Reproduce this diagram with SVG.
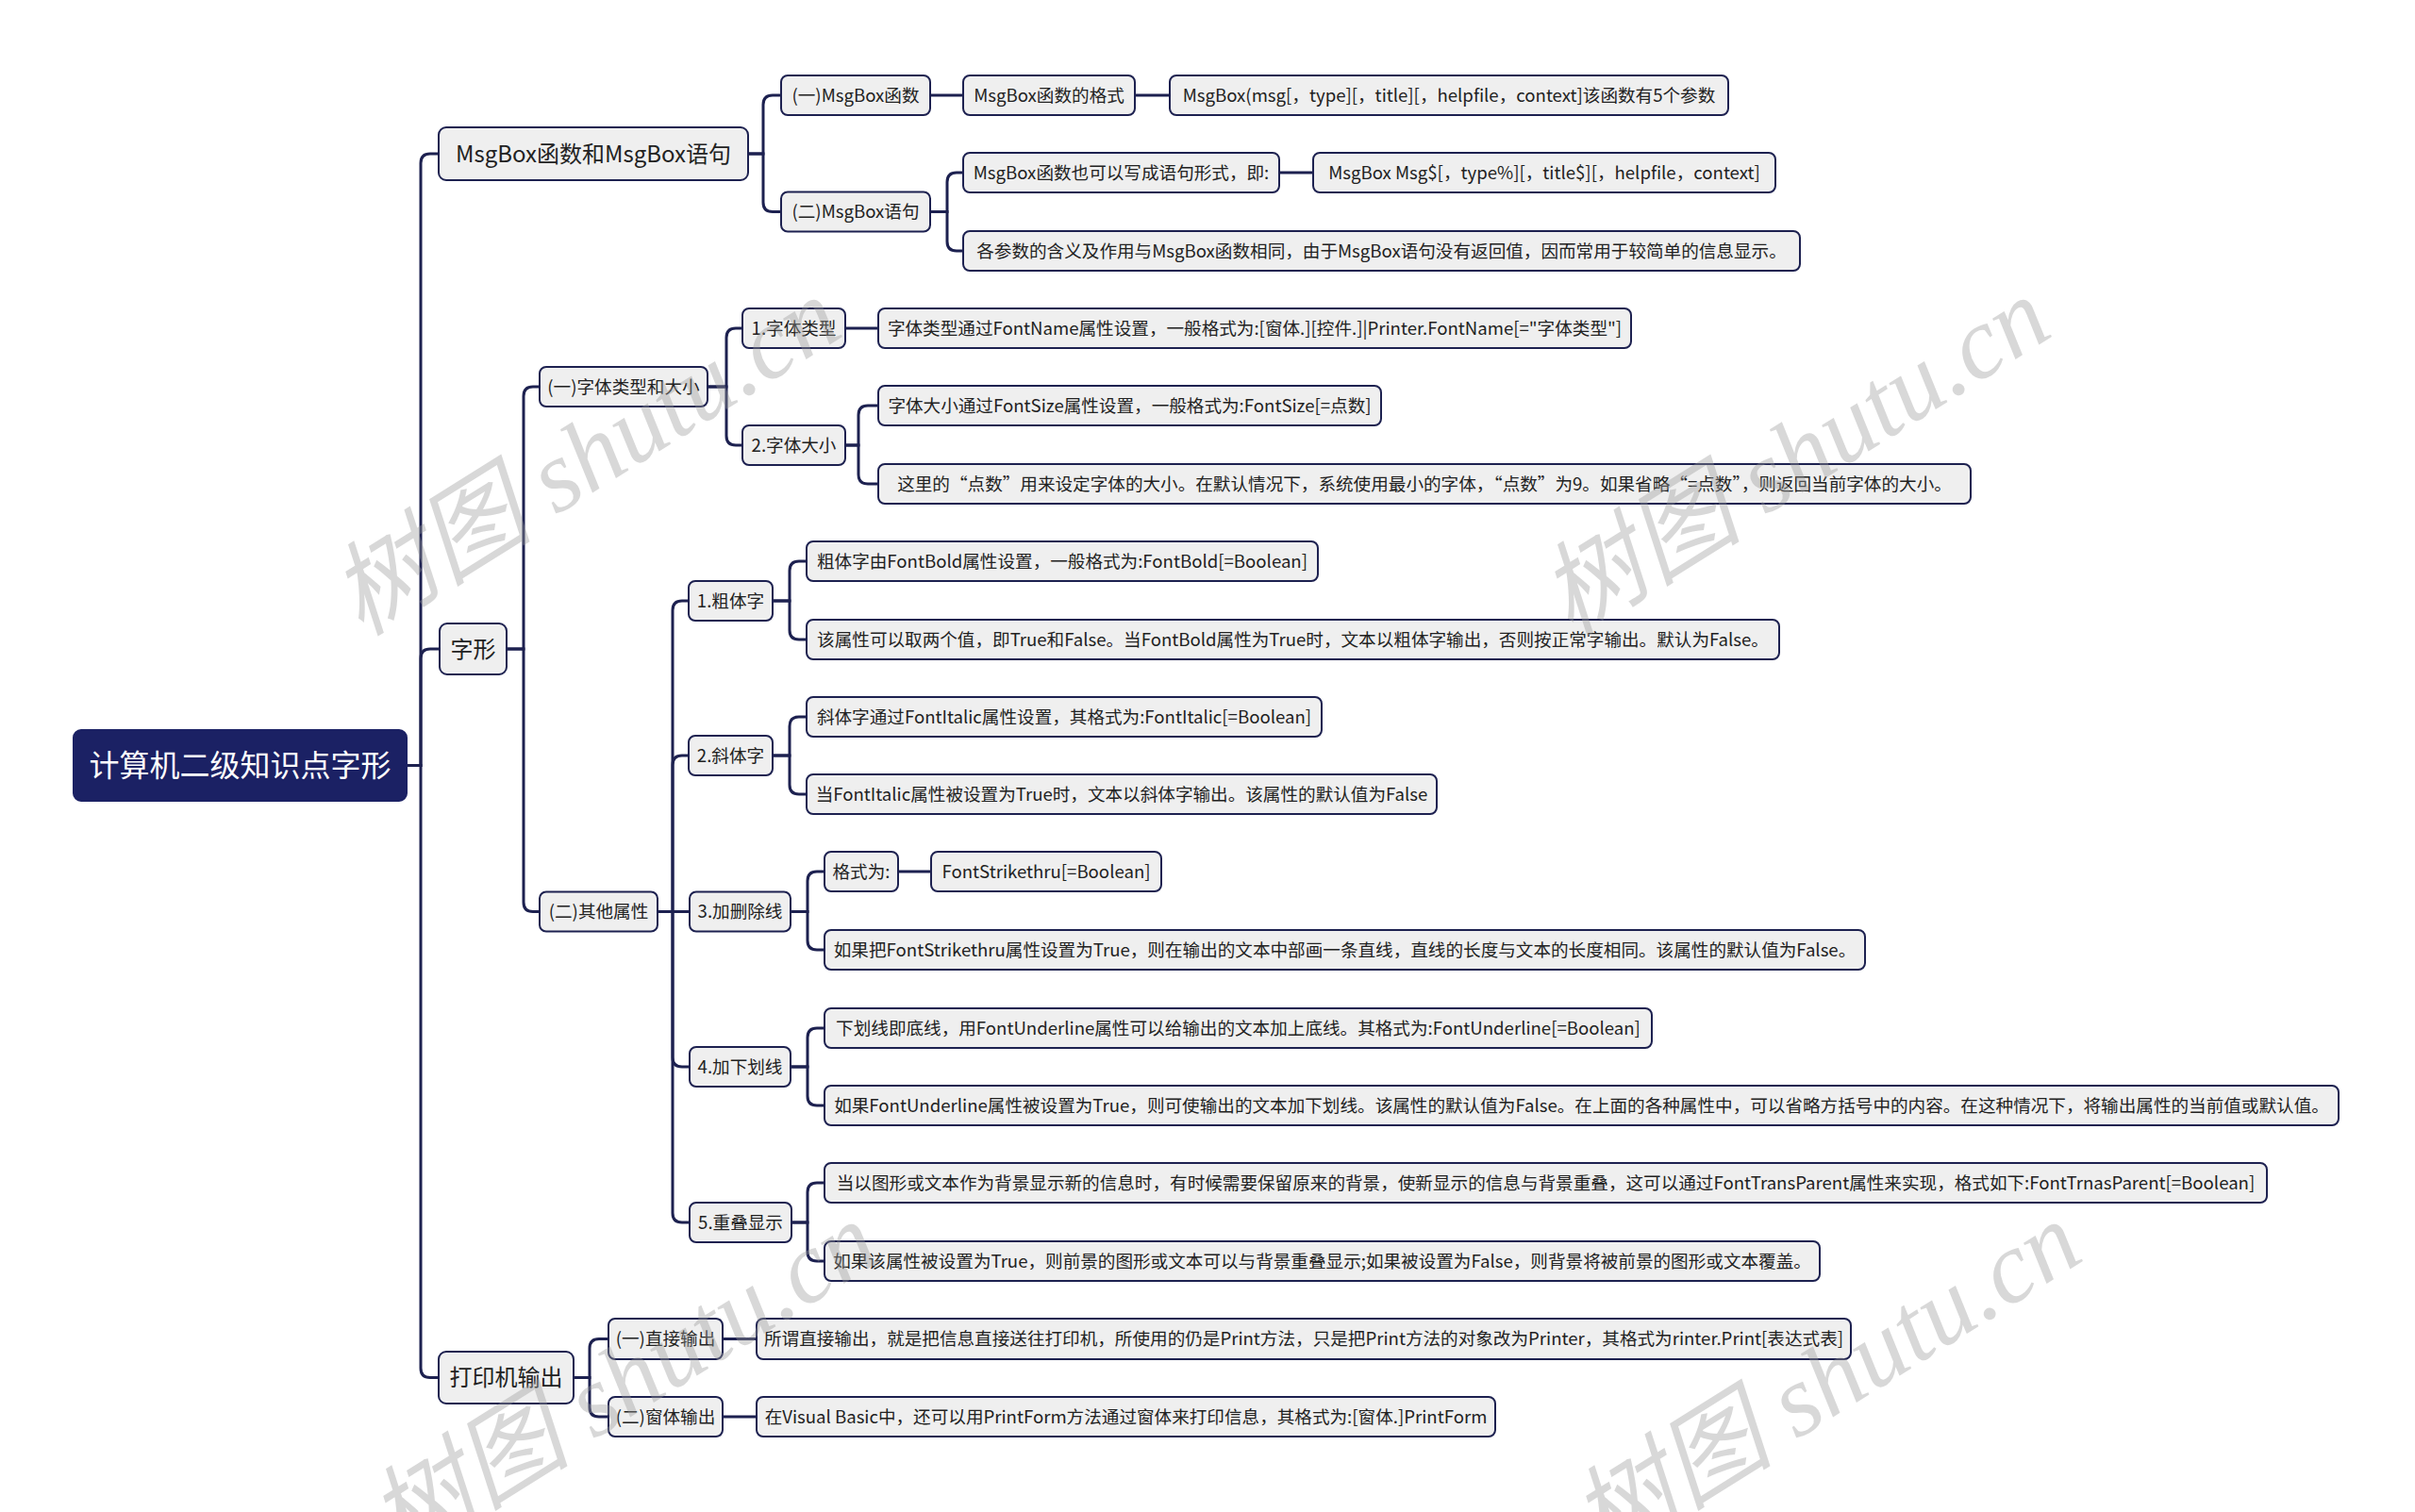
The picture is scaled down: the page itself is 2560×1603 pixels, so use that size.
<svg xmlns="http://www.w3.org/2000/svg" width="2560" height="1603" viewBox="0 0 2560 1603">
<style>
.n rect{fill:#efefef;stroke:#1d2150;stroke-width:2}
.t{font-family:"Noto Sans CJK SC","Noto Sans",sans-serif;font-size:18.6px;fill:#222;text-anchor:middle}
.t1{font-size:24px}
.root rect{fill:#1b2164;stroke:#1b2164}
.root text{fill:#fff;font-size:32px}
.c path{fill:none;stroke:#1d2150;stroke-width:3;stroke-linecap:round}
.wm{font-family:"Liberation Serif",serif;font-style:italic;font-size:108px;fill:#9a9a9a;opacity:0.38;text-anchor:middle}
.wm tspan.cj{font-family:"Noto Sans CJK SC",sans-serif;font-style:italic}
</style>
<rect width="2560" height="1603" fill="#fff"/>
<g id="connectors" class="c">
<path d="M431,811.5 H446 V173 Q446,163 456,163 H465"/>
<path d="M431,811.5 H446 V698 Q446,688 456,688 H466"/>
<path d="M431,811.5 H446 V1450.5 Q446,1460.5 456,1460.5 H465"/>
<path d="M793,163 H809 V111 Q809,101 819,101 H828"/>
<path d="M793,163 H809 V214.5 Q809,224.5 819,224.5 H828"/>
<path d="M986,101 H1021"/>
<path d="M1203,101 H1240"/>
<path d="M986,224.5 H1004 V193 Q1004,183 1014,183 H1021"/>
<path d="M986,224.5 H1004 V256 Q1004,266 1014,266 H1021"/>
<path d="M1356,183 H1392"/>
<path d="M537,688 H555 V420 Q555,410 565,410 H572"/>
<path d="M537,688 H555 V956.5 Q555,966.5 565,966.5 H572"/>
<path d="M750,410 H770 V358 Q770,348 780,348 H787"/>
<path d="M750,410 H770 V462 Q770,472 780,472 H787"/>
<path d="M896,348 H931"/>
<path d="M896,472 H910 V440 Q910,430 920,430 H931"/>
<path d="M896,472 H910 V503 Q910,513 920,513 H931"/>
<path d="M697,966.5 H713 V647 Q713,637 723,637 H730"/>
<path d="M697,966.5 H713 V811 Q713,801 723,801 H730"/>
<path d="M697,966.5 H731"/>
<path d="M697,966.5 H713 V1121 Q713,1131 723,1131 H731"/>
<path d="M697,966.5 H713 V1286 Q713,1296 723,1296 H731"/>
<path d="M819,637 H837 V605 Q837,595 847,595 H855"/>
<path d="M819,637 H837 V668 Q837,678 847,678 H855"/>
<path d="M819,801 H837 V770 Q837,760 847,760 H855"/>
<path d="M819,801 H837 V832 Q837,842 847,842 H855"/>
<path d="M838,966.5 H856 V934 Q856,924 866,924 H874"/>
<path d="M838,966.5 H856 V997 Q856,1007 866,1007 H874"/>
<path d="M952,924 H987"/>
<path d="M838,1131 H856 V1100 Q856,1090 866,1090 H874"/>
<path d="M838,1131 H856 V1162 Q856,1172 866,1172 H874"/>
<path d="M839,1296 H856 V1264 Q856,1254 866,1254 H874"/>
<path d="M839,1296 H856 V1327 Q856,1337 866,1337 H874"/>
<path d="M608,1460.5 H625 V1429.5 Q625,1419.5 635,1419.5 H645"/>
<path d="M608,1460.5 H625 V1492 Q625,1502 635,1502 H645"/>
<path d="M766,1419.5 H802"/>
<path d="M766,1502 H802"/>
</g>
<g id="root" class="n root"><rect x="78" y="774" width="353" height="75" rx="8"/><text class="t" x="254.5" y="823">计算机二级知识点字形</text></g>
<g id="n1" class="n"><rect x="465" y="135" width="328" height="56" rx="8"/><text class="t t1" x="629" y="171.5">MsgBox函数和MsgBox语句</text></g>
<g id="n2" class="n"><rect x="466" y="661" width="71" height="54" rx="8"/><text class="t t1" x="501.5" y="696.5">字形</text></g>
<g id="n3" class="n"><rect x="465" y="1433" width="143" height="55" rx="8"/><text class="t t1" x="536.5" y="1469">打印机输出</text></g>
<g id="a1" class="n"><rect x="828" y="80" width="158" height="42" rx="7"/><text class="t" x="907" y="107.5">(一)MsgBox函数</text></g>
<g id="a2" class="n"><rect x="828" y="203.5" width="158" height="42" rx="7"/><text class="t" x="907" y="231">(二)MsgBox语句</text></g>
<g id="b1" class="n"><rect x="1021" y="80" width="182" height="42" rx="7"/><text class="t" x="1112" y="107.5">MsgBox函数的格式</text></g>
<g id="c1" class="n"><rect x="1240" y="80" width="592" height="42" rx="7"/><text class="t" x="1536" y="107.5">MsgBox(msg[，type][，title][，helpfile，context]该函数有5个参数</text></g>
<g id="b2" class="n"><rect x="1021" y="162" width="335" height="42" rx="7"/><text class="t" x="1188.5" y="189.5">MsgBox函数也可以写成语句形式，即:</text></g>
<g id="c2" class="n"><rect x="1392" y="162" width="490" height="42" rx="7"/><text class="t" x="1637" y="189.5">MsgBox Msg$[，type%][，title$][，helpfile，context]</text></g>
<g id="b3" class="n"><rect x="1021" y="245" width="887" height="42" rx="7"/><text class="t" x="1464.5" y="272.5">各参数的含义及作用与MsgBox函数相同，由于MsgBox语句没有返回值，因而常用于较简单的信息显示。</text></g>
<g id="d1" class="n"><rect x="572" y="389" width="178" height="42" rx="7"/><text class="t" x="661" y="416.5">(一)字体类型和大小</text></g>
<g id="d2" class="n"><rect x="572" y="945.5" width="125" height="42" rx="7"/><text class="t" x="634.5" y="973">(二)其他属性</text></g>
<g id="e1" class="n"><rect x="787" y="327" width="109" height="42" rx="7"/><text class="t" x="841.5" y="354.5">1.字体类型</text></g>
<g id="e2" class="n"><rect x="787" y="451" width="109" height="42" rx="7"/><text class="t" x="841.5" y="478.5">2.字体大小</text></g>
<g id="f1" class="n"><rect x="931" y="327" width="798" height="42" rx="7"/><text class="t" x="1330" y="354.5">字体类型通过FontName属性设置，一般格式为:[窗体.][控件.]|Printer.FontName[="字体类型"]</text></g>
<g id="f2" class="n"><rect x="931" y="409" width="533" height="42" rx="7"/><text class="t" x="1197.5" y="436.5">字体大小通过FontSize属性设置，一般格式为:FontSize[=点数]</text></g>
<g id="f3" class="n"><rect x="931" y="492" width="1158" height="42" rx="7"/><text class="t" x="1510" y="519.5">这里的“点数”用来设定字体的大小。在默认情况下，系统使用最小的字体，“点数”为9。如果省略“=点数”，则返回当前字体的大小。</text></g>
<g id="g1" class="n"><rect x="730" y="616" width="89" height="42" rx="7"/><text class="t" x="774.5" y="643.5">1.粗体字</text></g>
<g id="g2" class="n"><rect x="730" y="780" width="89" height="42" rx="7"/><text class="t" x="774.5" y="807.5">2.斜体字</text></g>
<g id="g3" class="n"><rect x="731" y="945.5" width="107" height="42" rx="7"/><text class="t" x="784.5" y="973">3.加删除线</text></g>
<g id="g4" class="n"><rect x="731" y="1110" width="107" height="42" rx="7"/><text class="t" x="784.5" y="1137.5">4.加下划线</text></g>
<g id="g5" class="n"><rect x="731" y="1275" width="108" height="42" rx="7"/><text class="t" x="785" y="1302.5">5.重叠显示</text></g>
<g id="h1" class="n"><rect x="855" y="574" width="542" height="42" rx="7"/><text class="t" x="1126" y="601.5">粗体字由FontBold属性设置，一般格式为:FontBold[=Boolean]</text></g>
<g id="h2" class="n"><rect x="855" y="657" width="1031" height="42" rx="7"/><text class="t" x="1370.5" y="684.5">该属性可以取两个值，即True和False。当FontBold属性为True时，文本以粗体字输出，否则按正常字输出。默认为False。</text></g>
<g id="h3" class="n"><rect x="855" y="739" width="546" height="42" rx="7"/><text class="t" x="1128" y="766.5">斜体字通过FontItalic属性设置，其格式为:FontItalic[=Boolean]</text></g>
<g id="h4" class="n"><rect x="855" y="821" width="668" height="42" rx="7"/><text class="t" x="1189" y="848.5">当FontItalic属性被设置为True时，文本以斜体字输出。该属性的默认值为False</text></g>
<g id="h5" class="n"><rect x="874" y="903" width="78" height="42" rx="7"/><text class="t" x="913" y="930.5">格式为:</text></g>
<g id="i1" class="n"><rect x="987" y="903" width="244" height="42" rx="7"/><text class="t" x="1109" y="930.5">FontStrikethru[=Boolean]</text></g>
<g id="h6" class="n"><rect x="874" y="986" width="1103" height="42" rx="7"/><text class="t" x="1425.5" y="1013.5">如果把FontStrikethru属性设置为True，则在输出的文本中部画一条直线，直线的长度与文本的长度相同。该属性的默认值为False。</text></g>
<g id="h7" class="n"><rect x="874" y="1069" width="877" height="42" rx="7"/><text class="t" x="1312.5" y="1096.5">下划线即底线，用FontUnderline属性可以给输出的文本加上底线。其格式为:FontUnderline[=Boolean]</text></g>
<g id="h8" class="n"><rect x="874" y="1151" width="1605" height="42" rx="7"/><text class="t" x="1676.5" y="1178.5">如果FontUnderline属性被设置为True，则可使输出的文本加下划线。该属性的默认值为False。在上面的各种属性中，可以省略方括号中的内容。在这种情况下，将输出属性的当前值或默认值。</text></g>
<g id="h9" class="n"><rect x="874" y="1233" width="1529" height="42" rx="7"/><text class="t" x="1638.5" y="1260.5">当以图形或文本作为背景显示新的信息时，有时候需要保留原来的背景，使新显示的信息与背景重叠，这可以通过FontTransParent属性来实现，格式如下:FontTrnasParent[=Boolean]</text></g>
<g id="h10" class="n"><rect x="874" y="1316" width="1055" height="42" rx="7"/><text class="t" x="1401.5" y="1343.5">如果该属性被设置为True，则前景的图形或文本可以与背景重叠显示;如果被设置为False，则背景将被前景的图形或文本覆盖。</text></g>
<g id="j1" class="n"><rect x="645" y="1398" width="121" height="43" rx="7"/><text class="t" x="705.5" y="1426">(一)直接输出</text></g>
<g id="j2" class="n"><rect x="645" y="1481" width="121" height="42" rx="7"/><text class="t" x="705.5" y="1508.5">(二)窗体输出</text></g>
<g id="k1" class="n"><rect x="802" y="1398" width="1160" height="43" rx="7"/><text class="t" x="1382" y="1426">所谓直接输出，就是把信息直接送往打印机，所使用的仍是Print方法，只是把Print方法的对象改为Printer，其格式为rinter.Print[表达式表]</text></g>
<g id="k2" class="n"><rect x="802" y="1481" width="783" height="42" rx="7"/><text class="t" x="1193.5" y="1508.5">在Visual Basic中，还可以用PrintForm方法通过窗体来打印信息，其格式为:[窗体.]PrintForm</text></g>
<g id="watermarks">
<text class="wm" transform="translate(640,515) rotate(-32)"><tspan class="cj">树图</tspan> shutu.cn</text>
<text class="wm" transform="translate(1922,515) rotate(-32)"><tspan class="cj">树图</tspan> shutu.cn</text>
<text class="wm" transform="translate(680,1495) rotate(-32)"><tspan class="cj">树图</tspan> shutu.cn</text>
<text class="wm" transform="translate(1955,1495) rotate(-32)"><tspan class="cj">树图</tspan> shutu.cn</text>
</g>
</svg>
